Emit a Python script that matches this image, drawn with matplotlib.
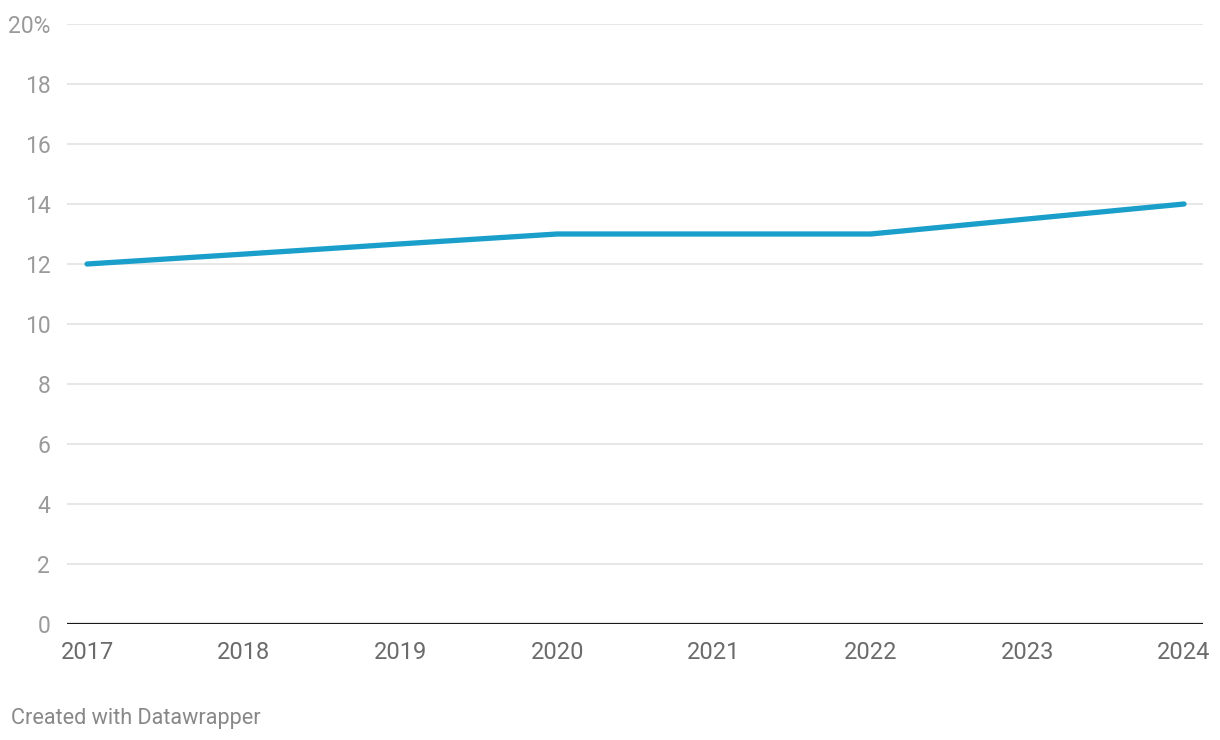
import matplotlib.pyplot as plt

years = [2017, 2018, 2019, 2020, 2021, 2022, 2023, 2024]
values = [12, 12.33, 12.67, 13, 13, 13, 13.5, 14]
y_ticks = [0, 2, 4, 6, 8, 10, 12, 14, 16, 18, 20]
y_labels = ["0", "2", "4", "6", "8", "10", "12", "14", "16", "18", "20%"]

plt.rcParams['font.family'] = ['Roboto', 'DejaVu Sans']

fig = plt.figure(figsize=(12.2, 7.4), dpi=100)
ax = fig.add_axes([67 / 1220, 1 - 624 / 740, (1203 - 67) / 1220, 600 / 740])

ax.plot(years, values, color='#1a9fcb', linewidth=3.8, solid_capstyle='round',
        solid_joinstyle='round', zorder=3)

ax.set_xlim(2016.872, 2024.121)
ax.set_ylim(0, 20)

ax.set_yticks(y_ticks)
ax.set_yticklabels(y_labels)
ax.set_xticks(years)
ax.set_xticklabels([str(y) for y in years])

for t in y_ticks[1:]:
    ax.axhline(t, color='#e3e3e3', linewidth=1.2, zorder=1)
ax.axhline(0, color='#1a1a1a', linewidth=1.6, zorder=2)

for s in ax.spines.values():
    s.set_visible(False)

ax.tick_params(axis='y', length=0, pad=12, labelsize=16.5, labelcolor='#9a9a9a')
ax.tick_params(axis='x', length=0, pad=12.5, labelsize=17, labelcolor='#6b6b6b')

fig.text(11 / 1220, 1 - 724 / 740, "Created with Datawrapper", fontsize=15.6,
         color='#888888', ha='left', va='baseline')

fig.savefig("out.png", dpi=100, facecolor='white')
